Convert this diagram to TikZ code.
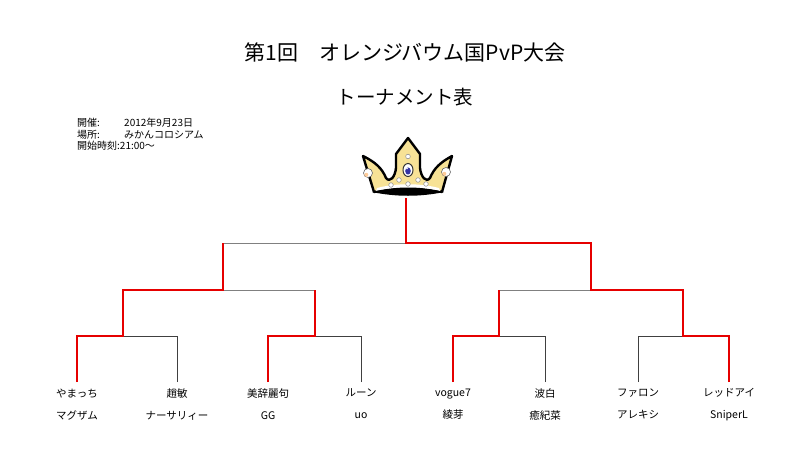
\documentclass[tikz,border=0pt]{standalone}
\usepackage{fontspec}
\setmainfont{Noto Sans CJK JP}
\usepackage{tikz}
\usetikzlibrary{calc}

\definecolor{winred}{RGB}{230,0,0}
\definecolor{crownyellow}{RGB}{247,226,150}

\begin{document}
\begin{tikzpicture}[
  x=1pt,y=-1pt,
  lost/.style={draw=black!50,line width=1pt},
  lostlow/.style={draw=black!75,line width=1pt},
  won/.style={draw=winred,line width=2.6pt,line join=miter},
  player/.style={anchor=north,inner xsep=0pt,inner ysep=6.5pt,font=\fontsize{10.5}{22}\selectfont,align=center},
  pearl/.style={fill=white,draw=black!45,line width=0.5pt}
]
\useasboundingbox (0,0) rectangle (800,450);

% titles and info
\node (title) at (405,52) {\fontsize{21}{24}\selectfont 第1回　オレンジバウム国PvP大会};
\node (subtitle) at (405,97) {\fontsize{19.5}{23}\selectfont トーナメント表};
\node[anchor=north west,inner sep=0pt,font=\fontsize{10}{11.5}\selectfont,align=left] (info) at (77,118)
  {\makebox[47pt][l]{開催:}2012年9月23日\\\makebox[47pt][l]{場所:}みかんコロシアム\\開始時刻:21:00〜};

% crown
\draw[fill=crownyellow,line width=2.4pt,line join=round]
  (374,192) -- (363,156) .. controls (375,162) and (382,168) .. (386,178)
  .. controls (390,183) and (395,177) .. (396,168) -- (396,154) -- (408,138) -- (420,154) -- (420,168)
  .. controls (421,177) and (426,183) .. (430,178) .. controls (434,168) and (441,162) .. (452,156)
  -- (442,192) .. controls (420,187) and (396,187) .. (374,192) -- cycle;
\fill[white] (377,188) .. controls (396,183) and (420,183) .. (439,188) -- (440,191) .. controls (420,187) and (396,187) .. (376,191) -- cycle;
\fill[black] (372,192) .. controls (396,186) and (420,186) .. (444,192) .. controls (420,197) and (396,197) .. (372,192) -- cycle;
\draw[fill=white,draw=black!60,line width=0.6pt] (368,173) circle (4.5);
\draw[fill=white,draw=black!60,line width=0.6pt] (446,172) circle (4.5);
\fill[orange!40] (366.3,174.8) circle (2);
\fill[orange!40] (444.3,173.8) circle (2);
\draw[fill=white,draw=black!80,line width=1pt] (408,170) ellipse (5 and 6.5);
\fill[blue!55!black!80] (408,171) ellipse (2.8 and 3.6);
\fill[white] (407,168.5) circle (0.9);
\foreach \px/\py in {408/156.5, 399/180, 418/180, 408/184, 391/185, 426/184}
  \draw[pearl] (\px,\py) circle (2.3);

% bracket points
\coordinate (crown) at (406,198);
\coordinate (f) at (406,243);
\coordinate (s1) at (223,290);
\coordinate (s2) at (591,290);
\coordinate (q1) at (123,336);
\coordinate (q2) at (315,336);
\coordinate (q3) at (499,336);
\coordinate (q4) at (683,336);

% players
\node[player] (n1) at (77,382)  {やまっち\\マグザム};
\node[player] (n2) at (177,382) {趙敏\\ナーサリィー};
\node[player] (n3) at (268,382) {美辞麗句\\GG};
\node[player] (n4) at (361,382) {ルーン\\uo};
\node[player] (n5) at (453,382) {vogue7\\綾芽};
\node[player] (n6) at (545,382) {波白\\癒紀菜};
\node[player] (n7) at (638,382) {ファロン\\アレキシ};
\node[player] (n8) at (729,382) {レッドアイ\\SniperL};

% lost matches
\draw[lostlow] (n2) |- (q1);
\draw[lostlow] (n4) |- (q2);
\draw[lostlow] (n6) |- (q3);
\draw[lostlow] (n7) |- (q4);
\draw[lost] (q2 |- s1) -- (s1);
\draw[lost] (q3 |- s2) -- (s2);
\draw[lost] (s1 |- f) -- (f);

% winners
\draw[won] (n1) |- (q1) |- (s1) -- (s1 |- f);
\draw[won] (n3) |- (q2) -- (q2 |- s1);
\draw[won] (n5) |- (q3) -- (q3 |- s2);
\draw[won] (n8) |- (q4) |- (s2) |- (f) -- (crown);

\end{tikzpicture}
\end{document}
